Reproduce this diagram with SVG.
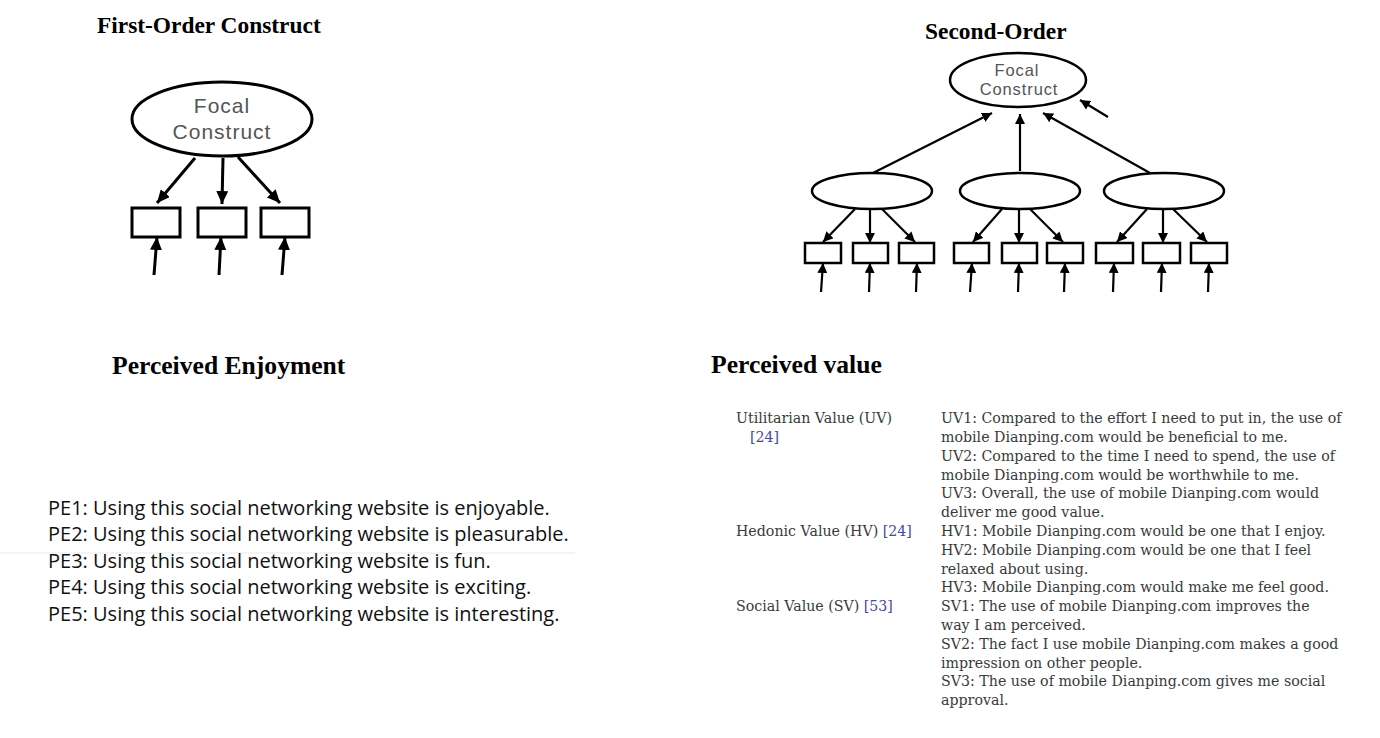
<svg xmlns="http://www.w3.org/2000/svg" width="1380" height="738" viewBox="0 0 1380 738">
<style>
.title{font-family:"Liberation Serif",serif;font-weight:bold;font-size:23.4px;fill:#000}
.head{font-family:"Liberation Serif",serif;font-weight:bold;font-size:25.6px;fill:#000}
.lbl1{font-family:"Liberation Sans",Arial,sans-serif;font-size:21px;letter-spacing:1px;fill:#555}
.lbl2{font-family:"Liberation Sans",Arial,sans-serif;font-size:16.5px;letter-spacing:0.9px;fill:#555}
.shape1{fill:#fff;stroke:#000;stroke-width:3}
.shape2{fill:#fff;stroke:#000;stroke-width:2.5}
.c1{stroke:#000;stroke-width:3;fill:none}
.c2{stroke:#000;stroke-width:2.2;fill:none}
.pe{font-family:"Open Sans","Liberation Sans",sans-serif;font-size:20px;fill:#111}
.it{font-family:"DejaVu Serif","Liberation Serif",serif;font-size:14.2px;fill:#3a3a3a}
.ref{fill:#4a4a9a}
</style>
<defs>
<marker id="ah1" markerUnits="userSpaceOnUse" markerWidth="14" markerHeight="12" refX="13" refY="6" orient="auto"><path d="M0,0 L13,6 L0,12 z" fill="#000"/></marker>
<marker id="ah2" markerUnits="userSpaceOnUse" markerWidth="11" markerHeight="10" refX="10" refY="5" orient="auto"><path d="M0,0 L10,5 L0,10 z" fill="#000"/></marker>
</defs>
<rect width="1380" height="738" fill="#fff"/>
<line x1="0" y1="553" x2="575" y2="553" stroke="#f0f0f0" stroke-width="1.5"/>

<text class="title" x="97" y="33">First-Order Construct</text>
<text class="title" x="925" y="39">Second-Order</text>

<!-- First-order diagram -->
<g id="focal1">
<ellipse class="shape1" cx="222" cy="119" rx="90" ry="37"/>
<text class="lbl1" x="222" y="113" text-anchor="middle">Focal</text>
<text class="lbl1" x="222" y="139" text-anchor="middle">Construct</text>
</g>
<g id="fo-item1"><rect class="shape1" x="132" y="208" width="48" height="29"/></g>
<g id="fo-item2"><rect class="shape1" x="198" y="208" width="48" height="29"/></g>
<g id="fo-item3"><rect class="shape1" x="261" y="208" width="48" height="29"/></g>

<!-- Second-order diagram -->
<g id="focal2">
<ellipse class="shape2" cx="1018" cy="80" rx="68" ry="27"/>
<text class="lbl2" x="1017" y="76" text-anchor="middle">Focal</text>
<text class="lbl2" x="1019" y="95" text-anchor="middle">Construct</text>
</g>
<g id="dim1"><ellipse class="shape2" cx="872" cy="191" rx="60" ry="18"/></g>
<g id="dim2"><ellipse class="shape2" cx="1020" cy="191" rx="60" ry="18"/></g>
<g id="dim3"><ellipse class="shape2" cx="1164" cy="191" rx="60" ry="18"/></g>
<g id="so-items">
<rect class="shape2" x="805" y="243" width="36" height="20"/>
<rect class="shape2" x="853" y="243" width="35" height="20"/>
<rect class="shape2" x="899" y="243" width="35" height="20"/>
<rect class="shape2" x="954" y="243" width="35" height="20"/>
<rect class="shape2" x="1002" y="243" width="35" height="20"/>
<rect class="shape2" x="1047" y="243" width="36" height="20"/>
<rect class="shape2" x="1096" y="243" width="37" height="20"/>
<rect class="shape2" x="1143" y="243" width="37" height="20"/>
<rect class="shape2" x="1191" y="243" width="36" height="20"/>
</g>

<g id="connectors">
<g marker-end="url(#ah1)" class="c1">
<line x1="195" y1="158" x2="157" y2="203"/>
<line x1="223" y1="158" x2="222" y2="204"/>
<line x1="238" y1="157" x2="280" y2="203"/>
<line x1="154" y1="275" x2="157" y2="237"/>
<line x1="219" y1="275" x2="221" y2="237"/>
<line x1="282" y1="275" x2="285" y2="237"/>
</g>
<g marker-end="url(#ah2)" class="c2">
<line x1="873" y1="173" x2="992" y2="113"/>
<line x1="1020" y1="171" x2="1020" y2="114"/>
<line x1="1150" y1="173" x2="1043" y2="113"/>
<line x1="1108" y1="117" x2="1080" y2="100"/>
<line x1="855" y1="209" x2="823" y2="242"/>
<line x1="870" y1="209" x2="870" y2="243"/>
<line x1="882" y1="209" x2="915" y2="242"/>
<line x1="1002" y1="209" x2="973" y2="242"/>
<line x1="1019" y1="209" x2="1019" y2="243"/>
<line x1="1030" y1="209" x2="1063" y2="242"/>
<line x1="1147" y1="209" x2="1117" y2="242"/>
<line x1="1163" y1="209" x2="1163" y2="243"/>
<line x1="1173" y1="209" x2="1207" y2="242"/>
<line x1="821" y1="292" x2="823" y2="263"/>
<line x1="869" y1="292" x2="870" y2="263"/>
<line x1="916" y1="292" x2="917" y2="263"/>
<line x1="970" y1="292" x2="972" y2="263"/>
<line x1="1018" y1="292" x2="1019" y2="263"/>
<line x1="1064" y1="292" x2="1065" y2="263"/>
<line x1="1113" y1="292" x2="1114" y2="263"/>
<line x1="1161" y1="292" x2="1162" y2="263"/>
<line x1="1208" y1="292" x2="1209" y2="263"/>
</g>
</g>

<text class="head" x="112" y="374">Perceived Enjoyment</text>
<text class="head" x="711" y="373">Perceived value</text>

<g id="pe-items" class="pe">
<text x="48" y="515">PE1: Using this social networking website is enjoyable.</text>
<text x="48" y="541">PE2: Using this social networking website is pleasurable.</text>
<text x="48" y="568">PE3: Using this social networking website is fun.</text>
<text x="48" y="594">PE4: Using this social networking website is exciting.</text>
<text x="48" y="621">PE5: Using this social networking website is interesting.</text>
</g>

<g id="pv-dims" class="it">
<text x="736" y="423">Utilitarian Value (UV)</text>
<text x="750" y="442" class="ref">[24]</text>
<text x="736" y="536">Hedonic Value (HV) <tspan class="ref">[24]</tspan></text>
<text x="736" y="611">Social Value (SV) <tspan class="ref">[53]</tspan></text>
</g>
<g id="pv-items" class="it">
<text x="941" y="423">UV1: Compared to the effort I need to put in, the use of</text>
<text x="941" y="442">mobile Dianping.com would be beneficial to me.</text>
<text x="941" y="461">UV2: Compared to the time I need to spend, the use of</text>
<text x="941" y="480">mobile Dianping.com would be worthwhile to me.</text>
<text x="941" y="498">UV3: Overall, the use of mobile Dianping.com would</text>
<text x="941" y="517">deliver me good value.</text>
<text x="941" y="536">HV1: Mobile Dianping.com would be one that I enjoy.</text>
<text x="941" y="555">HV2: Mobile Dianping.com would be one that I feel</text>
<text x="941" y="574">relaxed about using.</text>
<text x="941" y="592">HV3: Mobile Dianping.com would make me feel good.</text>
<text x="941" y="611">SV1: The use of mobile Dianping.com improves the</text>
<text x="941" y="630">way I am perceived.</text>
<text x="941" y="649">SV2: The fact I use mobile Dianping.com makes a good</text>
<text x="941" y="668">impression on other people.</text>
<text x="941" y="686">SV3: The use of mobile Dianping.com gives me social</text>
<text x="941" y="705">approval.</text>
</g>
</svg>
